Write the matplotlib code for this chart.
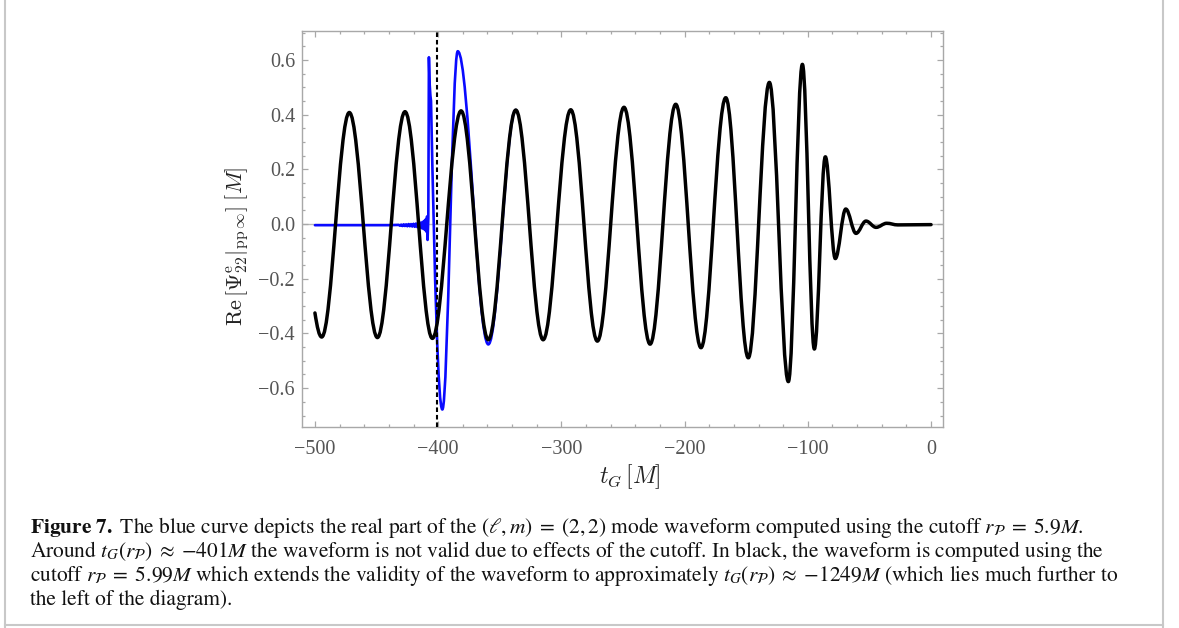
import matplotlib
matplotlib.use("Agg")
import matplotlib.pyplot as plt
from matplotlib.path import Path
from matplotlib.patches import PathPatch
from matplotlib.lines import Line2D
from matplotlib.ticker import FixedLocator, MultipleLocator

# ---------------- data ----------------
# black curve (cutoff r_P = 5.99M): start point, then successive extrema, then end
black_t = [-500.0, -494.5, -472.1, -449.3, -426.9, -404.7, -381.4, -359.3, -337.0,
           -314.8, -292.4, -270.8, -249.2, -228.0, -207.2, -186.7, -166.6, -148.3,
           -131.2, -115.8, -104.4, -94.7, -85.8, -77.7, -69.2, -60.9, -52.8, -44.6,
           -36.0, -27.0, 0.0]
black_v = [-0.325, -0.413, 0.408, -0.415, 0.411, -0.418, 0.414, -0.423, 0.417,
           -0.423, 0.418, -0.428, 0.427, -0.439, 0.438, -0.452, 0.462, -0.489,
           0.518, -0.576, 0.584, -0.457, 0.246, -0.126, 0.055, -0.034, 0.011, -0.012,
           0.003, -0.003, -0.002]

# blue curve (cutoff r_P = 5.9M): noisy / spiky early part (straight segments)
blue_jag_t = [-500.0, -440.0, -432.0, -431.0, -430.0, -429.0, -428.0, -427.0, -426.0,
              -425.0, -424.0, -423.0, -422.0, -421.0, -420.0, -419.0, -418.0, -417.0,
              -416.0, -415.0, -414.2, -413.4, -412.6, -411.9, -411.2, -410.6, -410.0,
              -409.5, -409.0, -408.6, -408.0, -407.5, -407.0, -406.3, -405.8]
blue_jag_v = [-0.004, -0.004, -0.003, -0.006, -0.002, -0.007, -0.001, -0.007, -0.001,
              -0.008, 0.000, -0.008, 0.000, -0.009, 0.001, -0.010, 0.002, -0.011,
              0.003, -0.012, 0.005, -0.015, 0.008, -0.018, 0.012, -0.022, 0.018,
              -0.028, 0.028, -0.058, 0.020, 0.610, 0.520, 0.470, 0.450]
# blue curve: later smooth part, successive extrema
blue_ext_t = [-396.6, -384.1, -359.3, -337.0]
blue_ext_v = [-0.678, 0.632, -0.440, 0.417]

cutoff_t = -401.0

x_ticks = [-500, -400, -300, -200, -100, 0]
x_tick_labels = ["\u2212500", "\u2212400", "\u2212300", "\u2212200", "\u2212100", "0"]
y_ticks = [-0.6, -0.4, -0.2, 0.0, 0.2, 0.4, 0.6]
y_tick_labels = ["\u22120.6", "\u22120.4", "\u22120.2", "0.0", "0.2", "0.4", "0.6"]

caption_lines = [
    r"$\mathbf{Figure\ 7.}\ $The blue curve depicts the real part of the $(\ell, m)\;=\;(2, 2)$ mode waveform computed using the cutoff $r_{\mathcal{P}}\;=\;5.9M$.",
    r"Around $t_G(r_{\mathcal{P}})\;\approx\;{-}401M$ the waveform is not valid due to effects of the cutoff. In black, the waveform is computed using the",
    r"cutoff $r_{\mathcal{P}}\;=\;5.99M$ which extends the validity of the waveform to approximately $t_G(r_{\mathcal{P}})\;\approx\;{-}1249M$ (which lies much further to",
    r"the left of the diagram).",
]

# ---------------- helpers ----------------
K = 0.3634  # Bezier handle fraction giving a sinusoid-like arc between extrema


def smooth_codes(ts, vs, verts, codes, first_is_extremum):
    """Append cubic Bezier segments through points (horizontal tangents at extrema)."""
    for i in range(len(ts) - 1):
        t0, v0, t1, v1 = ts[i], vs[i], ts[i + 1], vs[i + 1]
        h = t1 - t0
        if i == 0 and not first_is_extremum:
            s = 1.8 * (v1 - v0) / h
            c1 = (t0 + h / 3.0, v0 + s * h / 3.0)
        else:
            c1 = (t0 + K * h, v0)
        c2 = (t1 - K * h, v1)
        verts += [c1, c2, (t1, v1)]
        codes += [Path.CURVE4] * 3


# ---------------- figure ----------------
W, H = 1179, 628
fig = plt.figure(figsize=(W / 100, H / 100), dpi=100)
fig.patch.set_facecolor("white")

L, R, T, B = 302, 943, 31, 427
ax = fig.add_axes([L / W, 1 - B / H, (R - L) / W, (B - T) / H])
ax.set_xlim(-510.5, 9.7)
ax.set_ylim(-0.742, 0.706)

# zero axis line
ax.axhline(0.0, color="#b8b8b8", lw=1.0, zorder=1)

# blue curve
verts = [(blue_jag_t[0], blue_jag_v[0])]
codes = [Path.MOVETO]
for t, v in zip(blue_jag_t[1:], blue_jag_v[1:]):
    verts.append((t, v))
    codes.append(Path.LINETO)
smooth_codes([blue_jag_t[-1]] + blue_ext_t, [blue_jag_v[-1]] + blue_ext_v,
             verts, codes, first_is_extremum=False)
ax.add_patch(PathPatch(Path(verts, codes), facecolor="none", edgecolor="#0a0aff",
                       lw=1.9, joinstyle="round", capstyle="round", zorder=2))

# black curve
verts = [(black_t[0], black_v[0])]
codes = [Path.MOVETO]
smooth_codes(black_t, black_v, verts, codes, first_is_extremum=False)
ax.add_patch(PathPatch(Path(verts, codes), facecolor="none", edgecolor="black",
                       lw=2.5, joinstyle="round", capstyle="round", zorder=3))

# cutoff marker
ax.axvline(cutoff_t, color="black", lw=1.5, ls=(0, (2.2, 1.4)), zorder=4)

# frame & ticks
frame_col = "#a8a8a8"
for sp in ax.spines.values():
    sp.set_color(frame_col)
    sp.set_linewidth(1.0)
ax.xaxis.set_major_locator(FixedLocator(x_ticks))
ax.set_xticklabels(x_tick_labels)
ax.xaxis.set_minor_locator(MultipleLocator(20))
ax.yaxis.set_major_locator(FixedLocator(y_ticks))
ax.set_yticklabels(y_tick_labels)
ax.yaxis.set_minor_locator(MultipleLocator(0.05))
ax.tick_params(which="both", direction="in", top=True, right=True, color=frame_col,
               width=0.9)
ax.tick_params(which="major", length=4.5)
ax.tick_params(which="minor", length=2.5)
ax.tick_params(axis="x", which="major", pad=9)
ax.tick_params(axis="y", which="major", pad=5)
for lab in ax.get_xticklabels() + ax.get_yticklabels():
    lab.set_fontfamily("Liberation Serif")
    lab.set_fontsize(14.5)
    lab.set_color("#555555")

# axis labels
fig.text(630 / W, 1 - 477 / H, r"$t_G\,[M]$", ha="center", va="center",
         fontsize=17, color="#222222", math_fontfamily="cm")
fig.text(237 / W, 1 - 246 / H,
         r"$\mathrm{Re}\,\left[\Psi^{\mathrm{e}}_{22}|_{\mathrm{pp}\,\infty}\right]\;[M]$",
         ha="center", va="center", rotation=90, fontsize=16, color="#222222",
         math_fontfamily="cm")

# caption
baselines = [533, 557, 581, 605]
for txt, yb in zip(caption_lines, baselines):
    fig.text(30 / W, 1 - yb / H, txt, ha="left", va="baseline", fontsize=15.4,
             family="STIXGeneral", math_fontfamily="stix", color="#111111")

# page frame lines
pc = "#c8c8c8"
fig.add_artist(Line2D([5 / W, 5 / W], [0, 1], transform=fig.transFigure, color=pc, lw=1.5))
fig.add_artist(Line2D([1163 / W, 1163 / W], [0, 1], transform=fig.transFigure, color=pc, lw=1.5))
fig.add_artist(Line2D([5 / W, 1163 / W], [1 - 625 / H, 1 - 625 / H], transform=fig.transFigure,
                      color=pc, lw=1.5))

fig.savefig("out.png", dpi=100, facecolor="white")
